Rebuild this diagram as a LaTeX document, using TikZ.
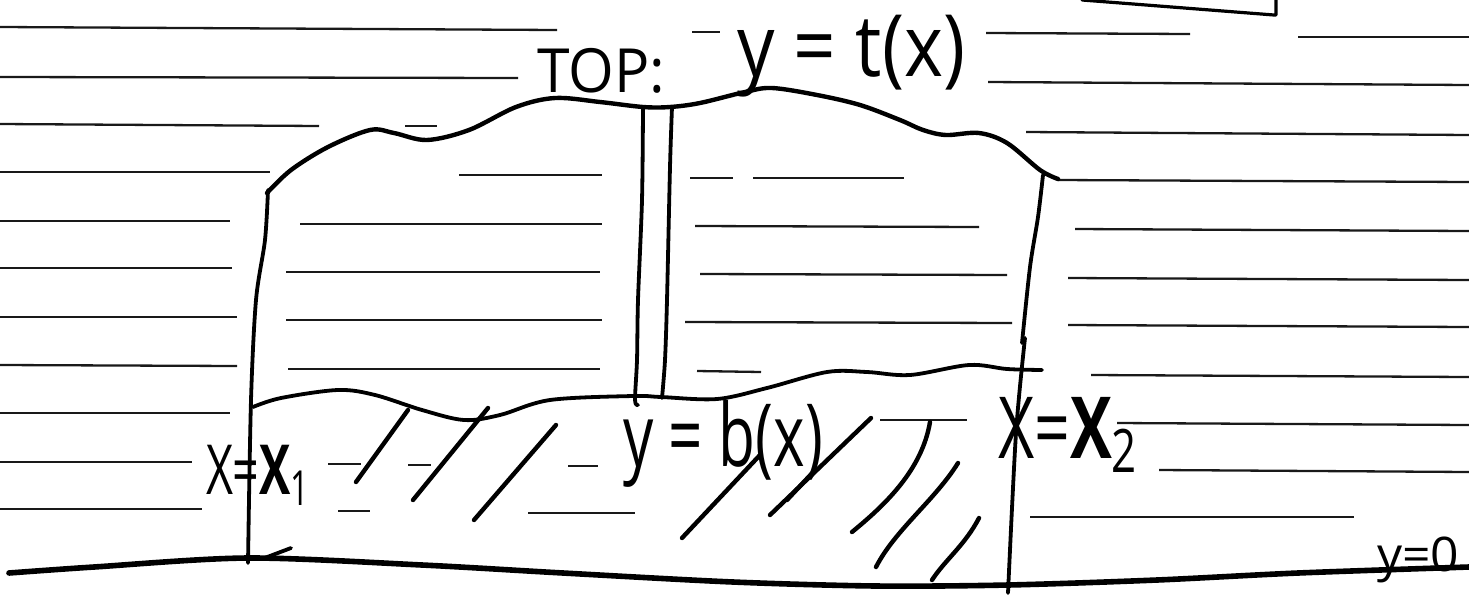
\documentclass[tikz,border=0pt]{standalone}
\usepackage{graphicx}
\usepackage{fontspec}
\setmainfont{Open Sans}
\begin{document}
\begin{tikzpicture}[x=1pt,y=-1pt,
  rule/.style={line width=2.3pt, black!90},
  pen/.style={line width=4.4pt, line cap=round, line join=round},
  thinpen/.style={line width=3.8pt, line cap=round, line join=round},
  groundpen/.style={line width=5.6pt, line cap=round, line join=round},
  lab/.style={inner sep=0pt, outer sep=0pt, anchor=north west}]
\useasboundingbox (0,0) rectangle (1469,603);
% ruled paper lines
\foreach \a/\b/\c/\d in {
  0/27/557/30, 692/32/720/32, 986/33/1190/34, 1298/37/1469/37,
  0/77/518/78, 988/82/1469/85,
  0/124/319/126, 405/126/437/126, 1026/132/1469/135,
  0/172/270/172, 459/175/602/175, 690/178/733/178, 753/178/904/178, 1058/180/1469/182,
  0/221/230/221, 300/224/602/224, 695/226/979/227, 1075/229/1469/231,
  0/268/232/268, 286/272/600/272, 700/274/1007/275, 1068/278/1469/280,
  0/317/237/317, 286/320/602/320, 685/322/1012/323, 1068/325/1469/327,
  0/365/237/366, 288/369/600/369, 697/371/761/372, 1091/375/1469/377,
  0/413/230/413, 880/420/967/420, 1117/423/1469/425,
  0/462/192/462, 328/464/361/464, 408/465/431/465, 568/466/598/466, 1159/470/1469/472,
  0/509/202/509, 338/511/370/511, 528/513/635/513, 1030/517/1354/517}
  \draw[rule] (\a,\b) -- (\c,\d);
% box corner at top right
\draw[thinpen, line width=3.2pt] (1082,0) -- (1274,15) -- (1276,15) -- (1276,0);
% top curve y = t(x)
\draw[pen] plot[smooth, tension=0.55] coordinates {(267,193) (291,170) (328,147) (370,130) (394,133) (427,140) (469,130) (516,107) (555,98) (600,102) (643,107) (670,107) (700,103) (745,92) (772,88) (817,95) (860,105) (900,120) (923,130) (946,135) (979,133) (1007,143) (1040,170) (1058,179)};
% left wall
\draw[thinpen] plot[smooth] coordinates {(268,190) (265,240) (256,300) (251,400) (248,563)};
\draw[thinpen] (291,548) -- (262,559);
% right wall
\draw[thinpen] plot[smooth] coordinates {(1043,175) (1038,217) (1030,267) (1022,343)};
\draw[thinpen] plot[smooth] coordinates {(1025,338) (1016,433) (1008,593)};
% column
\draw[thinpen] plot[smooth] coordinates {(643,107) (642,200) (638,300) (637,360) (635,400) (638,405)};
\draw[thinpen] plot[smooth] coordinates {(672,107) (670,167) (667,300) (665,360) (662,398)};
% bottom curve y = b(x)
\draw[thinpen] plot[smooth, tension=0.55] coordinates {(253,407) (281,398) (338,390) (375,395) (422,410) (464,420) (500,415) (550,400) (633,396) (661,397) (717,399) (767,388) (827,372) (867,372) (910,375) (969,365) (1007,369) (1042,370)};
% ground y = 0
\draw[groundpen] plot[smooth, tension=0.5] coordinates {(9,573) (94,567) (248,558) (422,565) (563,573) (733,582) (876,586) (1008,585) (1157,580) (1298,573) (1469,567)};
% hatching
\draw[pen] (408,410) -- (356,482);
\draw[pen] (488,408) -- (413,500);
\draw[pen] (556,425) -- (474,520);
\draw[pen] (760,455) -- (682,538);
\draw[pen] (871,418) -- (770,515);
\draw[pen] (787,500) -- (815,470);
\draw[pen] (930,422) .. controls (922,470) and (885,505) .. (852,532);
\draw[pen] (958,463) .. controls (935,500) and (895,530) .. (876,567);
\draw[pen] (979,518) .. controls (965,545) and (945,560) .. (932,580);
% labels
\node[lab] (top) at (537,48) {\resizebox*{128pt}{45pt}{TOP:}};
\node[lab] (tx) at (737,15) {\resizebox*{228pt}{82pt}{y = t(x)}};
\node[lab] (bx) at (623,400) {\resizebox*{200pt}{87pt}{y = b(x)}};
\node[lab] (x1) at (206,445) {\resizebox*{106pt}{60pt}{X=\textbf{X}\textsubscript{1}}};
\node[lab] (x2) at (998,397) {\resizebox*{142pt}{75pt}{X=\textbf{X}\textsubscript{2}}};
\node[lab] (y0) at (1377,537) {\resizebox*{82pt}{46pt}{y=0}};
\end{tikzpicture}
\end{document}
